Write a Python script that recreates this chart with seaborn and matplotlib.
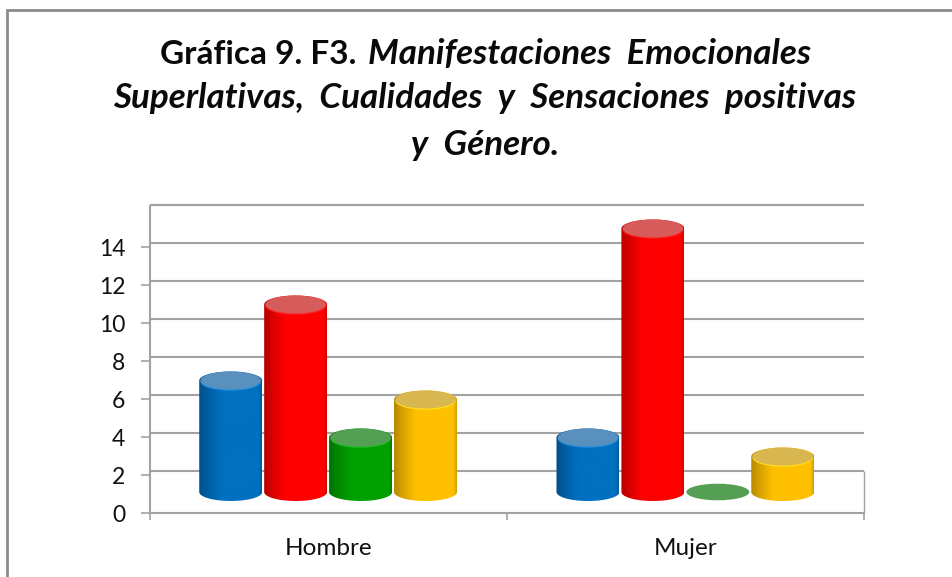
import numpy as np
import pandas as pd
import matplotlib
matplotlib.use("Agg")
import matplotlib.pyplot as plt
from matplotlib.lines import Line2D
from matplotlib.patches import Ellipse, PathPatch
from matplotlib.path import Path
from matplotlib.colors import to_rgb
import seaborn as sns

# ---- data ----
categories = ["Hombre", "Mujer"]
series_names = ["S1", "S2", "S3", "S4"]
s1 = [6, 3]
s2 = [10, 14]
s3 = [3, 0]
s4 = [5, 2]
tick_labels = [0, 2, 4, 6, 8, 10, 12, 14]
bar_colors = ["#0070c0", "#ff0000", "#00a000", "#ffc000"]
top_colors = ["#5a90bd", "#d65c5c", "#559f55", "#d8b650"]
title_bold = "Gráfica 9. F3."
title_it1 = "Manifestaciones  Emocionales"
title_it2 = "Superlativas,  Cualidades  y  Sensaciones  positivas"
title_it3 = "y  Género."

sns.set_theme(style="white")
plt.rcParams["font.family"] = ["Lato", "DejaVu Sans"]

W, H = 952, 577
fig = plt.figure(figsize=(W / 100, H / 100), dpi=100, facecolor="white")

# layout in pixels
L, R, T, B = 149.5, 864, 205.5, 513
ax = fig.add_axes([L / W, 1 - B / H, (R - L) / W, (B - T) / H])
PX = 19.0           # pixels per unit
ZERO = 494.5        # pixel row of the value 0 of the columns
floor = (ZERO - B) / PX
ax.set_ylim(floor, (ZERO - T) / PX)

df = pd.DataFrame({
    "Género": categories * 4,
    "Serie": np.repeat(series_names, 2),
    "Valor": s1 + s2 + s3 + s4,
})

sns.barplot(data=df, x="Género", y="Valor", hue="Serie", hue_order=series_names,
            order=categories, palette=bar_colors, width=0.727, gap=0.03,
            legend=False, ax=ax, zorder=3, errorbar=None)
ax.set_xlim(-0.5, 1.5)
ax.set_ylim(floor, (ZERO - T) / PX)
ax.set_xlabel("")
ax.set_ylabel("")

GRID = "#a2a2a2"
# back wall gridlines
wall = (ZERO - 471) / PX
grid_y = [wall + v for v in tick_labels] + [wall + 14]
ax.hlines(grid_y, -0.5, 1.5, color=GRID, lw=1.5, zorder=1, clip_on=False)
ax.vlines(1.5, floor, wall, color=GRID, lw=1.0, zorder=1, clip_on=False)

# cylinders drawn over the bars of the barplot
RY = 9.0 / PX
BASE_SHIFT = 2.5 / PX
t = np.linspace(0, np.pi, 60)
for i, p in enumerate(ax.patches):
    c = np.array(to_rgb(bar_colors[i // 2]))
    x0, w, h = p.get_x(), p.get_width(), p.get_height()
    p.set_visible(False)
    cx = x0 + w / 2
    rx = w / 2
    base = BASE_SHIFT
    top = h
    if h > 0:
        xs = np.concatenate([cx - rx * np.cos(t), cx + rx * np.cos(t)])
        ys = np.concatenate([base - RY * np.sin(t), top + RY * np.sin(t)])
        clip = PathPatch(Path(np.column_stack([xs, ys])), transform=ax.transData,
                         fc="none", ec="none")
        ax.add_patch(clip)
        u = np.linspace(0, 1, 120)
        shade = 0.70 + 0.30 * np.clip(u / 0.35, 0, 1) ** 0.8
        shade = shade * (1 - 0.18 * np.clip((u - 0.95) / 0.05, 0, 1))
        img = (shade[:, None] * c)[None, :, :]
        im = ax.imshow(img, extent=(cx - rx, cx + rx, base - RY, top + RY),
                       aspect="auto", zorder=3, interpolation="bilinear")
        im.set_clip_path(clip)
        # light rim under the cap
        rim = np.clip(c + 0.12, 0, 1)
        ax.add_patch(Ellipse((cx, top - 1.2 / PX), 2 * rx * 0.96, 2 * RY, fc=rim, ec="none", zorder=3.1))
        ax.add_patch(Ellipse((cx, top), 2 * rx * 0.96, 2 * RY, fc=top_colors[i // 2], ec="none", zorder=3.2))
    else:
        ax.add_patch(Ellipse((cx, base), 2 * rx, 2 * 8.3 / PX, fc=top_colors[i // 2], ec="none", zorder=3.2))
ax.set_xlim(-0.5, 1.5)
ax.set_ylim(floor, (ZERO - T) / PX)

# axes, ticks and labels
sns.despine(ax=ax, top=True, right=True)
for s in ("left", "bottom"):
    ax.spines[s].set_color(GRID)
    ax.spines[s].set_linewidth(1.5)
ax.set_yticks([floor + v for v in tick_labels], labels=[str(v) for v in tick_labels])
ax.tick_params(axis="y", length=6.5, width=1.2, color=GRID, pad=11, labelsize=16.5, labelcolor="#111111", left=True)
ax.set_xticks([0, 1], labels=categories)
ax.tick_params(axis="x", which="major", length=0, pad=18, labelsize=17.5, labelcolor="#111111")
ax.set_xticks([-0.5, 0.5, 1.5], minor=True)
ax.tick_params(axis="x", which="minor", length=5, width=1.2, color=GRID, bottom=True)
ax.patch.set_alpha(0)

# outer frame
def fx(x):
    return x / W
def fy(y):
    return 1 - y / H
FRAME = "#8c8c8c"
fig.add_artist(Line2D([fx(7), fx(7), fx(W)], [fy(H), fy(9.5), fy(9.5)], color=FRAME, lw=2.0,
                      solid_joinstyle="miter"))

# title
TS = 25.2
fig.text(fx(160), fy(54), title_bold, fontsize=24, fontweight="bold", color="#0a0a0a", ha="left", va="center")
fig.text(fx(811), fy(54), title_it1, fontsize=TS, fontweight="bold", style="italic", color="#0a0a0a", ha="right", va="center")
fig.text(fx(485), fy(98), title_it2, fontsize=TS, fontweight="bold", style="italic", color="#0a0a0a", ha="center", va="center")
fig.text(fx(485), fy(145), title_it3, fontsize=TS, fontweight="bold", style="italic", color="#0a0a0a", ha="center", va="center")

fig.savefig("out.png", dpi=100, facecolor="white")
